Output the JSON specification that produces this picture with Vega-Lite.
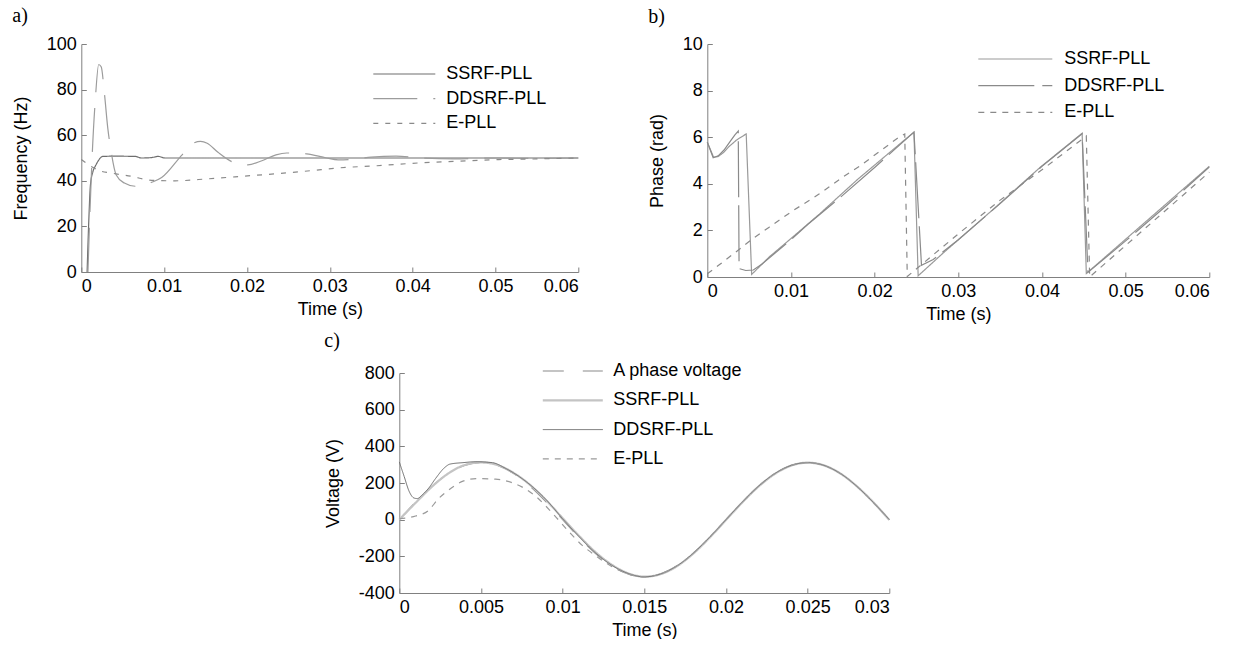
{
  "$schema": "https://vega.github.io/schema/vega-lite/v6.json",
  "padding": {"left": 12, "top": 6, "right": 0, "bottom": 0},
  "background": "white",
  "config": {
    "view": {"stroke": null},
    "font": "Liberation Sans",
    "axis": {
      "grid": false,
      "domainColor": "#808080",
      "tickColor": "#808080",
      "tickSize": -5,
      "labelFont": "Liberation Sans",
      "labelFontSize": 18,
      "labelColor": "#000000",
      "titleFont": "Liberation Sans",
      "titleFontSize": 18,
      "titleFontWeight": "normal",
      "titleColor": "#000000",
      "labelExpr": "'' + datum.value"
    },
    "axisX": {"labelPadding": 10, "titlePadding": 5},
    "axisY": {"labelPadding": 10, "titlePadding": 16},
    "legend": {
      "orient": "none",
      "title": null,
      "symbolType": "stroke",
      "labelFont": "Liberation Sans",
      "labelFontSize": 18,
      "labelColor": "#000000",
      "clipHeight": 20,
      "symbolStrokeWidth": 1.2
    },
    "title": {"font": "Liberation Serif", "fontSize": 20, "fontWeight": "normal", "anchor": "start", "color": "#000000"}
  },
  "datasets": {
    "a": [
      {"t": 0.0007, "v": 0, "s": "SSRF-PLL"},
      {"t": 0.0009, "v": 22, "s": "SSRF-PLL"},
      {"t": 0.0011, "v": 38, "s": "SSRF-PLL"},
      {"t": 0.0014, "v": 44, "s": "SSRF-PLL"},
      {"t": 0.0017, "v": 46.5, "s": "SSRF-PLL"},
      {"t": 0.002, "v": 48.5, "s": "SSRF-PLL"},
      {"t": 0.0026, "v": 50.7, "s": "SSRF-PLL"},
      {"t": 0.004, "v": 50.8, "s": "SSRF-PLL"},
      {"t": 0.0065, "v": 50.7, "s": "SSRF-PLL"},
      {"t": 0.0073, "v": 50, "s": "SSRF-PLL"},
      {"t": 0.0085, "v": 50.2, "s": "SSRF-PLL"},
      {"t": 0.0093, "v": 50.7, "s": "SSRF-PLL"},
      {"t": 0.0101, "v": 50, "s": "SSRF-PLL"},
      {"t": 0.02, "v": 50, "s": "SSRF-PLL"},
      {"t": 0.04, "v": 50, "s": "SSRF-PLL"},
      {"t": 0.06, "v": 50, "s": "SSRF-PLL"},
      {"t": 0.0008, "v": 0, "s": "DDSRF-PLL"},
      {"t": 0.001, "v": 22, "s": "DDSRF-PLL"},
      {"t": 0.0013, "v": 50, "s": "DDSRF-PLL"},
      {"t": 0.0017, "v": 76, "s": "DDSRF-PLL"},
      {"t": 0.0021, "v": 91, "s": "DDSRF-PLL"},
      {"t": 0.0024, "v": 90, "s": "DDSRF-PLL"},
      {"t": 0.0028, "v": 78, "s": "DDSRF-PLL"},
      {"t": 0.0032, "v": 63, "s": "DDSRF-PLL"},
      {"t": 0.0036, "v": 52.9, "s": "DDSRF-PLL"},
      {"t": 0.0042, "v": 42.7, "s": "DDSRF-PLL"},
      {"t": 0.0052, "v": 39, "s": "DDSRF-PLL"},
      {"t": 0.0065, "v": 37.6, "s": "DDSRF-PLL"},
      {"t": 0.0075, "v": 37.8, "s": "DDSRF-PLL"},
      {"t": 0.0083, "v": 39, "s": "DDSRF-PLL"},
      {"t": 0.0097, "v": 41.4, "s": "DDSRF-PLL"},
      {"t": 0.0122, "v": 51.5, "s": "DDSRF-PLL"},
      {"t": 0.0136, "v": 56.6, "s": "DDSRF-PLL"},
      {"t": 0.0144, "v": 57.3, "s": "DDSRF-PLL"},
      {"t": 0.0152, "v": 56.5, "s": "DDSRF-PLL"},
      {"t": 0.0165, "v": 52.5, "s": "DDSRF-PLL"},
      {"t": 0.0183, "v": 48.2, "s": "DDSRF-PLL"},
      {"t": 0.0201, "v": 47, "s": "DDSRF-PLL"},
      {"t": 0.0218, "v": 48.8, "s": "DDSRF-PLL"},
      {"t": 0.0235, "v": 51.4, "s": "DDSRF-PLL"},
      {"t": 0.0248, "v": 52.2, "s": "DDSRF-PLL"},
      {"t": 0.0272, "v": 51.8, "s": "DDSRF-PLL"},
      {"t": 0.0296, "v": 50, "s": "DDSRF-PLL"},
      {"t": 0.031, "v": 49.2, "s": "DDSRF-PLL"},
      {"t": 0.0326, "v": 49.4, "s": "DDSRF-PLL"},
      {"t": 0.035, "v": 50.4, "s": "DDSRF-PLL"},
      {"t": 0.038, "v": 50.8, "s": "DDSRF-PLL"},
      {"t": 0.041, "v": 50, "s": "DDSRF-PLL"},
      {"t": 0.045, "v": 49.6, "s": "DDSRF-PLL"},
      {"t": 0.05, "v": 50, "s": "DDSRF-PLL"},
      {"t": 0.055, "v": 49.8, "s": "DDSRF-PLL"},
      {"t": 0.06, "v": 50, "s": "DDSRF-PLL"},
      {"t": 0, "v": 49.3, "s": "E-PLL"},
      {"t": 0.0012, "v": 46.3, "s": "E-PLL"},
      {"t": 0.0024, "v": 44.2, "s": "E-PLL"},
      {"t": 0.0036, "v": 43.4, "s": "E-PLL"},
      {"t": 0.006, "v": 42, "s": "E-PLL"},
      {"t": 0.0085, "v": 40.2, "s": "E-PLL"},
      {"t": 0.0113, "v": 40, "s": "E-PLL"},
      {"t": 0.0154, "v": 40.9, "s": "E-PLL"},
      {"t": 0.0195, "v": 42, "s": "E-PLL"},
      {"t": 0.0235, "v": 43.1, "s": "E-PLL"},
      {"t": 0.0276, "v": 44.4, "s": "E-PLL"},
      {"t": 0.0309, "v": 45.6, "s": "E-PLL"},
      {"t": 0.0357, "v": 46.6, "s": "E-PLL"},
      {"t": 0.0406, "v": 47.8, "s": "E-PLL"},
      {"t": 0.0455, "v": 48.6, "s": "E-PLL"},
      {"t": 0.0504, "v": 49.3, "s": "E-PLL"},
      {"t": 0.055, "v": 49.6, "s": "E-PLL"},
      {"t": 0.06, "v": 50, "s": "E-PLL"}
    ],
    "b": [
      {"t": 0, "v": 5.79, "s": "SSRF-PLL"},
      {"t": 0.00075, "v": 5.14, "s": "SSRF-PLL"},
      {"t": 0.0013, "v": 5.17, "s": "SSRF-PLL"},
      {"t": 0.002, "v": 5.36, "s": "SSRF-PLL"},
      {"t": 0.0026, "v": 5.6, "s": "SSRF-PLL"},
      {"t": 0.0035, "v": 5.88, "s": "SSRF-PLL"},
      {"t": 0.00465, "v": 6.14, "s": "SSRF-PLL"},
      {"t": 0.0053, "v": 0.11, "s": "SSRF-PLL"},
      {"t": 0.0062, "v": 0.43, "s": "SSRF-PLL"},
      {"t": 0.0074, "v": 0.86, "s": "SSRF-PLL"},
      {"t": 0.01, "v": 1.65, "s": "SSRF-PLL"},
      {"t": 0.0134, "v": 2.7, "s": "SSRF-PLL"},
      {"t": 0.018, "v": 4.2, "s": "SSRF-PLL"},
      {"t": 0.0235, "v": 5.86, "s": "SSRF-PLL"},
      {"t": 0.0247, "v": 6.21, "s": "SSRF-PLL"},
      {"t": 0.0252, "v": 0.05, "s": "SSRF-PLL"},
      {"t": 0.0281, "v": 1.0, "s": "SSRF-PLL"},
      {"t": 0.034, "v": 2.85, "s": "SSRF-PLL"},
      {"t": 0.0398, "v": 4.71, "s": "SSRF-PLL"},
      {"t": 0.0448, "v": 6.17, "s": "SSRF-PLL"},
      {"t": 0.0453, "v": 0.15, "s": "SSRF-PLL"},
      {"t": 0.06, "v": 4.75, "s": "SSRF-PLL"},
      {"t": 0, "v": 5.79, "s": "DDSRF-PLL"},
      {"t": 0.0007, "v": 5.12, "s": "DDSRF-PLL"},
      {"t": 0.0013, "v": 5.2, "s": "DDSRF-PLL"},
      {"t": 0.002, "v": 5.45, "s": "DDSRF-PLL"},
      {"t": 0.0028, "v": 5.85, "s": "DDSRF-PLL"},
      {"t": 0.0033, "v": 6.1, "s": "DDSRF-PLL"},
      {"t": 0.0037, "v": 6.26, "s": "DDSRF-PLL"},
      {"t": 0.0038, "v": 0.36, "s": "DDSRF-PLL"},
      {"t": 0.0046, "v": 0.28, "s": "DDSRF-PLL"},
      {"t": 0.0055, "v": 0.3, "s": "DDSRF-PLL"},
      {"t": 0.0065, "v": 0.55, "s": "DDSRF-PLL"},
      {"t": 0.008, "v": 1.0, "s": "DDSRF-PLL"},
      {"t": 0.01, "v": 1.6, "s": "DDSRF-PLL"},
      {"t": 0.012, "v": 2.25, "s": "DDSRF-PLL"},
      {"t": 0.016, "v": 3.45, "s": "DDSRF-PLL"},
      {"t": 0.02, "v": 4.7, "s": "DDSRF-PLL"},
      {"t": 0.0247, "v": 6.22, "s": "DDSRF-PLL"},
      {"t": 0.0256, "v": 0.5, "s": "DDSRF-PLL"},
      {"t": 0.027, "v": 0.75, "s": "DDSRF-PLL"},
      {"t": 0.03, "v": 1.6, "s": "DDSRF-PLL"},
      {"t": 0.035, "v": 3.15, "s": "DDSRF-PLL"},
      {"t": 0.04, "v": 4.75, "s": "DDSRF-PLL"},
      {"t": 0.0448, "v": 6.15, "s": "DDSRF-PLL"},
      {"t": 0.0455, "v": 0.2, "s": "DDSRF-PLL"},
      {"t": 0.05, "v": 1.55, "s": "DDSRF-PLL"},
      {"t": 0.055, "v": 3.1, "s": "DDSRF-PLL"},
      {"t": 0.06, "v": 4.72, "s": "DDSRF-PLL"},
      {"t": 0, "v": 0.14, "s": "E-PLL"},
      {"t": 0.00135, "v": 0.5, "s": "E-PLL"},
      {"t": 0.0034, "v": 1.07, "s": "E-PLL"},
      {"t": 0.0054, "v": 1.64, "s": "E-PLL"},
      {"t": 0.0074, "v": 2.14, "s": "E-PLL"},
      {"t": 0.01, "v": 2.79, "s": "E-PLL"},
      {"t": 0.0134, "v": 3.57, "s": "E-PLL"},
      {"t": 0.0162, "v": 4.29, "s": "E-PLL"},
      {"t": 0.0183, "v": 4.78, "s": "E-PLL"},
      {"t": 0.0229, "v": 6.0, "s": "E-PLL"},
      {"t": 0.0236, "v": 6.14, "s": "E-PLL"},
      {"t": 0.0239, "v": 0.02, "s": "E-PLL"},
      {"t": 0.0255, "v": 0.5, "s": "E-PLL"},
      {"t": 0.03, "v": 1.85, "s": "E-PLL"},
      {"t": 0.035, "v": 3.3, "s": "E-PLL"},
      {"t": 0.04, "v": 4.6, "s": "E-PLL"},
      {"t": 0.0453, "v": 6.05, "s": "E-PLL"},
      {"t": 0.0457, "v": 0.0, "s": "E-PLL"},
      {"t": 0.06, "v": 4.5, "s": "E-PLL"}
    ],
    "c": [
      {"t": 0, "v": 0, "s": "A phase voltage"},
      {"t": 0.001, "v": 96.1, "s": "A phase voltage"},
      {"t": 0.002, "v": 182.8, "s": "A phase voltage"},
      {"t": 0.003, "v": 251.6, "s": "A phase voltage"},
      {"t": 0.004, "v": 295.8, "s": "A phase voltage"},
      {"t": 0.005, "v": 311, "s": "A phase voltage"},
      {"t": 0.006, "v": 295.8, "s": "A phase voltage"},
      {"t": 0.007, "v": 251.6, "s": "A phase voltage"},
      {"t": 0.008, "v": 182.8, "s": "A phase voltage"},
      {"t": 0.009, "v": 96.1, "s": "A phase voltage"},
      {"t": 0.01, "v": 0, "s": "A phase voltage"},
      {"t": 0.011, "v": -96.1, "s": "A phase voltage"},
      {"t": 0.012, "v": -182.8, "s": "A phase voltage"},
      {"t": 0.013, "v": -251.6, "s": "A phase voltage"},
      {"t": 0.014, "v": -295.8, "s": "A phase voltage"},
      {"t": 0.015, "v": -311, "s": "A phase voltage"},
      {"t": 0.016, "v": -295.8, "s": "A phase voltage"},
      {"t": 0.017, "v": -251.6, "s": "A phase voltage"},
      {"t": 0.018, "v": -182.8, "s": "A phase voltage"},
      {"t": 0.019, "v": -96.1, "s": "A phase voltage"},
      {"t": 0.02, "v": 0, "s": "A phase voltage"},
      {"t": 0.021, "v": 96.1, "s": "A phase voltage"},
      {"t": 0.022, "v": 182.8, "s": "A phase voltage"},
      {"t": 0.023, "v": 251.6, "s": "A phase voltage"},
      {"t": 0.024, "v": 295.8, "s": "A phase voltage"},
      {"t": 0.025, "v": 311, "s": "A phase voltage"},
      {"t": 0.026, "v": 295.8, "s": "A phase voltage"},
      {"t": 0.027, "v": 251.6, "s": "A phase voltage"},
      {"t": 0.028, "v": 182.8, "s": "A phase voltage"},
      {"t": 0.029, "v": 96.1, "s": "A phase voltage"},
      {"t": 0.03, "v": 0, "s": "A phase voltage"},
      {"t": 0, "v": 0, "s": "SSRF-PLL"},
      {"t": 0.001, "v": 92, "s": "SSRF-PLL"},
      {"t": 0.002, "v": 180, "s": "SSRF-PLL"},
      {"t": 0.003, "v": 252, "s": "SSRF-PLL"},
      {"t": 0.004, "v": 298, "s": "SSRF-PLL"},
      {"t": 0.005, "v": 312, "s": "SSRF-PLL"},
      {"t": 0.006, "v": 298, "s": "SSRF-PLL"},
      {"t": 0.007, "v": 255, "s": "SSRF-PLL"},
      {"t": 0.008, "v": 190, "s": "SSRF-PLL"},
      {"t": 0.009, "v": 105, "s": "SSRF-PLL"},
      {"t": 0.01, "v": 8, "s": "SSRF-PLL"},
      {"t": 0.011, "v": -88, "s": "SSRF-PLL"},
      {"t": 0.012, "v": -176, "s": "SSRF-PLL"},
      {"t": 0.013, "v": -245, "s": "SSRF-PLL"},
      {"t": 0.014, "v": -292, "s": "SSRF-PLL"},
      {"t": 0.015, "v": -311, "s": "SSRF-PLL"},
      {"t": 0.016, "v": -297, "s": "SSRF-PLL"},
      {"t": 0.017, "v": -254, "s": "SSRF-PLL"},
      {"t": 0.018, "v": -185, "s": "SSRF-PLL"},
      {"t": 0.019, "v": -98, "s": "SSRF-PLL"},
      {"t": 0.02, "v": -2, "s": "SSRF-PLL"},
      {"t": 0.021, "v": 94, "s": "SSRF-PLL"},
      {"t": 0.022, "v": 181, "s": "SSRF-PLL"},
      {"t": 0.023, "v": 250, "s": "SSRF-PLL"},
      {"t": 0.024, "v": 295, "s": "SSRF-PLL"},
      {"t": 0.025, "v": 311, "s": "SSRF-PLL"},
      {"t": 0.026, "v": 296, "s": "SSRF-PLL"},
      {"t": 0.027, "v": 252, "s": "SSRF-PLL"},
      {"t": 0.028, "v": 183, "s": "SSRF-PLL"},
      {"t": 0.029, "v": 97, "s": "SSRF-PLL"},
      {"t": 0.03, "v": -2, "s": "SSRF-PLL"},
      {"t": 0, "v": 315, "s": "DDSRF-PLL"},
      {"t": 0.0003, "v": 235, "s": "DDSRF-PLL"},
      {"t": 0.0006, "v": 155, "s": "DDSRF-PLL"},
      {"t": 0.0009, "v": 118, "s": "DDSRF-PLL"},
      {"t": 0.0011, "v": 115, "s": "DDSRF-PLL"},
      {"t": 0.0014, "v": 135, "s": "DDSRF-PLL"},
      {"t": 0.0018, "v": 172, "s": "DDSRF-PLL"},
      {"t": 0.0022, "v": 222, "s": "DDSRF-PLL"},
      {"t": 0.0028, "v": 286, "s": "DDSRF-PLL"},
      {"t": 0.0031, "v": 303, "s": "DDSRF-PLL"},
      {"t": 0.0039, "v": 311, "s": "DDSRF-PLL"},
      {"t": 0.0047, "v": 316, "s": "DDSRF-PLL"},
      {"t": 0.0057, "v": 311, "s": "DDSRF-PLL"},
      {"t": 0.0065, "v": 280, "s": "DDSRF-PLL"},
      {"t": 0.0079, "v": 198, "s": "DDSRF-PLL"},
      {"t": 0.009, "v": 108, "s": "DDSRF-PLL"},
      {"t": 0.01, "v": 5, "s": "DDSRF-PLL"},
      {"t": 0.011, "v": -92, "s": "DDSRF-PLL"},
      {"t": 0.012, "v": -180, "s": "DDSRF-PLL"},
      {"t": 0.013, "v": -248, "s": "DDSRF-PLL"},
      {"t": 0.014, "v": -293, "s": "DDSRF-PLL"},
      {"t": 0.015, "v": -312, "s": "DDSRF-PLL"},
      {"t": 0.016, "v": -296, "s": "DDSRF-PLL"},
      {"t": 0.017, "v": -252, "s": "DDSRF-PLL"},
      {"t": 0.018, "v": -183, "s": "DDSRF-PLL"},
      {"t": 0.019, "v": -96, "s": "DDSRF-PLL"},
      {"t": 0.02, "v": 0, "s": "DDSRF-PLL"},
      {"t": 0.021, "v": 96, "s": "DDSRF-PLL"},
      {"t": 0.022, "v": 183, "s": "DDSRF-PLL"},
      {"t": 0.023, "v": 252, "s": "DDSRF-PLL"},
      {"t": 0.024, "v": 296, "s": "DDSRF-PLL"},
      {"t": 0.025, "v": 311, "s": "DDSRF-PLL"},
      {"t": 0.026, "v": 296, "s": "DDSRF-PLL"},
      {"t": 0.027, "v": 252, "s": "DDSRF-PLL"},
      {"t": 0.028, "v": 183, "s": "DDSRF-PLL"},
      {"t": 0.029, "v": 96, "s": "DDSRF-PLL"},
      {"t": 0.03, "v": 0, "s": "DDSRF-PLL"},
      {"t": 0, "v": 5, "s": "E-PLL"},
      {"t": 0.001, "v": 20, "s": "E-PLL"},
      {"t": 0.0018, "v": 51, "s": "E-PLL"},
      {"t": 0.0024, "v": 115, "s": "E-PLL"},
      {"t": 0.003, "v": 160, "s": "E-PLL"},
      {"t": 0.0039, "v": 210, "s": "E-PLL"},
      {"t": 0.0047, "v": 224, "s": "E-PLL"},
      {"t": 0.0059, "v": 221, "s": "E-PLL"},
      {"t": 0.0069, "v": 202, "s": "E-PLL"},
      {"t": 0.0075, "v": 179, "s": "E-PLL"},
      {"t": 0.0084, "v": 124, "s": "E-PLL"},
      {"t": 0.0094, "v": 33, "s": "E-PLL"},
      {"t": 0.0104, "v": -67, "s": "E-PLL"},
      {"t": 0.0112, "v": -140, "s": "E-PLL"},
      {"t": 0.012, "v": -195, "s": "E-PLL"},
      {"t": 0.013, "v": -255, "s": "E-PLL"},
      {"t": 0.014, "v": -296, "s": "E-PLL"},
      {"t": 0.015, "v": -312, "s": "E-PLL"},
      {"t": 0.016, "v": -296, "s": "E-PLL"},
      {"t": 0.017, "v": -252, "s": "E-PLL"},
      {"t": 0.018, "v": -183, "s": "E-PLL"},
      {"t": 0.019, "v": -96, "s": "E-PLL"},
      {"t": 0.02, "v": 0, "s": "E-PLL"},
      {"t": 0.021, "v": 96, "s": "E-PLL"},
      {"t": 0.022, "v": 183, "s": "E-PLL"},
      {"t": 0.023, "v": 252, "s": "E-PLL"},
      {"t": 0.024, "v": 296, "s": "E-PLL"},
      {"t": 0.025, "v": 311, "s": "E-PLL"},
      {"t": 0.026, "v": 296, "s": "E-PLL"},
      {"t": 0.027, "v": 252, "s": "E-PLL"},
      {"t": 0.028, "v": 183, "s": "E-PLL"},
      {"t": 0.029, "v": 96, "s": "E-PLL"},
      {"t": 0.03, "v": 0, "s": "E-PLL"}
    ]
  },
  "vconcat": [
    {
      "hconcat": [
        {
          "title": {"text": "a)", "offset": 9},
          "width": 497,
          "height": 228,
          "data": {"name": "a"},
          "mark": {"type": "line", "strokeWidth": 1.2, "interpolate": "monotone"},
          "encoding": {
            "x": {"field": "t", "type": "quantitative", "title": "Time (s)",
              "scale": {"domain": [0, 0.06], "nice": false, "zero": false},
              "axis": {"values": [0, 0.01, 0.02, 0.03, 0.04, 0.05, 0.06]}},
            "y": {"field": "v", "type": "quantitative", "title": "Frequency (Hz)",
              "scale": {"domain": [0, 100], "nice": false},
              "axis": {"values": [0, 20, 40, 60, 80, 100]}},
            "color": {"field": "s", "type": "nominal",
              "scale": {"domain": ["SSRF-PLL", "DDSRF-PLL", "E-PLL"], "range": ["#6e6e6e", "#9c9c9c", "#8a8a8a"]},
              "legend": {"legendX": 291, "legendY": 20, "symbolSize": 3844, "labelOffset": 10, "rowPadding": 4.7}},
            "strokeDash": {"field": "s", "type": "nominal",
              "scale": {"domain": ["SSRF-PLL", "DDSRF-PLL", "E-PLL"], "range": [[1, 0], [44, 16], [5, 7]]},
              "legend": {"legendX": 291, "legendY": 20, "symbolSize": 3844, "labelOffset": 10, "rowPadding": 4.7}}
          }
        },
        {
          "title": {"text": "b)", "offset": 8},
          "width": 502,
          "height": 233,
          "data": {"name": "b"},
          "mark": {"type": "line", "strokeWidth": 1.2},
          "encoding": {
            "x": {"field": "t", "type": "quantitative", "title": "Time (s)",
              "scale": {"domain": [0, 0.06], "nice": false, "zero": false},
              "axis": {"values": [0, 0.01, 0.02, 0.03, 0.04, 0.05, 0.06]}},
            "y": {"field": "v", "type": "quantitative", "title": "Phase (rad)",
              "scale": {"domain": [0, 10], "nice": false},
              "axis": {"values": [0, 2, 4, 6, 8, 10]}},
            "color": {"field": "s", "type": "nominal",
              "scale": {"domain": ["SSRF-PLL", "DDSRF-PLL", "E-PLL"], "range": ["#9a9a9a", "#8a8a8a", "#8a8a8a"]},
              "legend": {"legendX": 270, "legendY": 5, "symbolSize": 5476, "labelOffset": 11, "rowPadding": 6.7}},
            "strokeDash": {"field": "s", "type": "nominal",
              "scale": {"domain": ["SSRF-PLL", "DDSRF-PLL", "E-PLL"], "range": [[1, 0], [56, 8], [6, 6]]},
              "legend": {"legendX": 270, "legendY": 5, "symbolSize": 5476, "labelOffset": 11, "rowPadding": 6.7}}
          }
        }
      ],
      "spacing": 66,
      "resolve": {
        "scale": {"color": "independent", "strokeDash": "independent"},
        "legend": {"color": "independent", "strokeDash": "independent"}
      }
    },
    {
      "title": {"text": "c)", "offset": 10},
      "width": 490,
      "height": 220,
      "data": {"name": "c"},
      "mark": {"type": "line", "interpolate": "monotone"},
      "encoding": {
        "x": {"field": "t", "type": "quantitative", "title": "Time (s)",
          "scale": {"domain": [0, 0.03], "nice": false, "zero": false},
          "axis": {"values": [0, 0.005, 0.01, 0.015, 0.02, 0.025, 0.03]}},
        "y": {"field": "v", "type": "quantitative", "title": "Voltage (V)",
          "scale": {"domain": [-400, 800], "nice": false, "zero": false},
          "axis": {"values": [-400, -200, 0, 200, 400, 600, 800]}},
        "color": {"field": "s", "type": "nominal",
          "scale": {"domain": ["A phase voltage", "SSRF-PLL", "DDSRF-PLL", "E-PLL"], "range": ["#8a8a8a", "#c4c4c4", "#707070", "#9a9a9a"]},
          "legend": {"legendX": 142, "legendY": -12, "symbolSize": 3600, "labelOffset": 9, "rowPadding": 9.3}},
        "strokeDash": {"field": "s", "type": "nominal",
          "scale": {"domain": ["A phase voltage", "SSRF-PLL", "DDSRF-PLL", "E-PLL"], "range": [[21, 19], [1, 0], [1, 0], [6, 6]]},
          "legend": {"legendX": 142, "legendY": -12, "symbolSize": 3600, "labelOffset": 9, "rowPadding": 9.3}},
        "strokeWidth": {"field": "s", "type": "nominal",
          "scale": {"type": "ordinal", "domain": ["A phase voltage", "SSRF-PLL", "DDSRF-PLL", "E-PLL"], "range": [1.2, 2.2, 1, 1.2]},
          "legend": {"legendX": 142, "legendY": -12, "symbolSize": 3600, "labelOffset": 9, "rowPadding": 9.3}}
      }
    }
  ],
  "spacing": 8,
  "center": true,
  "resolve": {
    "scale": {"color": "independent", "strokeDash": "independent", "strokeWidth": "independent"},
    "legend": {"color": "independent", "strokeDash": "independent", "strokeWidth": "independent"}
  }
}
